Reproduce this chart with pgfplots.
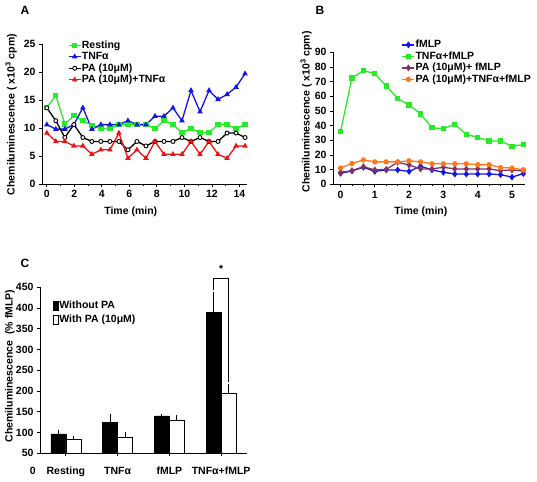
\documentclass[border=0pt]{standalone}
\usepackage{fontspec}
\setmainfont{Liberation Sans}
\usepackage{pgfplots}
\pgfplotsset{compat=1.18}
\definecolor{cgreen}{RGB}{40,235,40}
\definecolor{cblue}{RGB}{20,20,230}
\definecolor{cred}{RGB}{235,20,20}
\definecolor{corange}{RGB}{255,120,30}
\definecolor{cpurple}{RGB}{130,50,100}
\newcommand{\fs}{\fontsize{10.5}{12}\selectfont\bfseries}
\pgfplotsset{
 myaxis/.style={
  scale only axis,
  axis x line*=bottom, axis y line*=left,
  axis line style={line width=0.9pt,-},
  tick align=outside,
  major tick length=3pt, minor tick length=2pt,
  every tick/.style={line width=0.8pt, black},
  /pgf/number format/assume math mode=true,
  tick label style={font=\fs},
  label style={font=\fs},
  legend cell align=left,
  legend style={font=\fs, draw=none, fill=none, inner sep=0pt, outer sep=0pt,
    nodes={inner sep=0.5pt, text height=8pt, text depth=2.5pt}, anchor=north west},
  legend image code/.code={\draw[mark repeat=2,mark phase=2,##1] plot coordinates {(0pt,0pt) (6pt,0pt) (12pt,0pt)};},
 },
 ln/.style={line width=1.3pt, mark size=2pt, mark options={solid}},
 barleg/.style={legend image code/.code={\draw[##1,/tikz/.cd,line width=0.8pt] (0pt,-4.3pt) rectangle (4.5pt,4.3pt);}},
}
\begin{document}
\begin{tikzpicture}
\useasboundingbox (0,0) rectangle (537pt,-481pt);
\node[font=\fontsize{12}{14}\selectfont\bfseries] at (25pt,-10pt) {A};
\node[font=\fontsize{12}{14}\selectfont\bfseries] at (320pt,-10pt) {B};
\node[font=\fontsize{12}{14}\selectfont\bfseries] at (25pt,-263pt) {C};
% ---------------- Panel A
\begin{axis}[myaxis, at={(42pt,-184pt)}, anchor=south west, width=205pt, height=140pt,
 xmin=-0.35, xmax=14.55, ymin=0, ymax=25,
 xtick={0,2,...,14}, minor x tick num=1, ytick={0,5,...,25},
 xlabel={Time (min)}, ylabel={Chemiluminescence ( x10\textsuperscript{3} cpm)},
 xlabel style={at={(axis description cs:0.433,-0.2)}, anchor=center},
 ylabel style={at={(axis description cs:-0.151,0.496)}, anchor=center},
 legend style={at={(0.127,1.032)}}]
\addplot[ln, cgreen, mark=square*] coordinates {
(0,13.7)(0.655,15.8)(1.31,10.7)(1.965,12.2)(2.62,11.3)(3.275,10.5)(3.93,9.9)(4.585,9.9)(5.24,10.6)(5.895,10.6)(6.55,10.6)(7.205,10.6)(7.86,9.9)(8.515,11.3)(9.17,10.6)(9.825,9.2)(10.48,9.9)(11.135,9.2)(11.79,9.2)(12.445,10.6)(13.1,10.6)(13.755,9.9)(14.41,10.6)};
\addlegendentry{Resting}
\addplot[ln, cblue, mark=triangle*] coordinates {
(0,10.6)(0.655,9.8)(1.31,9.8)(1.965,10.6)(2.62,13.6)(3.275,9.8)(3.93,10.6)(4.585,10.6)(5.24,10.6)(5.895,11.3)(6.55,10.6)(7.205,10.6)(7.86,12.1)(8.515,12.1)(9.17,13.6)(9.825,11.3)(10.48,16.7)(11.135,12.9)(11.79,16.7)(12.445,15.1)(13.1,16.0)(13.755,17.3)(14.41,19.7)};
\addlegendentry{TNFα}
\addplot[ln, black, mark=*, mark options={fill=white, line width=0.9pt}] coordinates {
(0,13.6)(0.655,11.3)(1.31,8.3)(1.965,10.6)(2.62,8.3)(3.275,7.6)(3.93,7.6)(4.585,7.6)(5.24,7.6)(5.895,6.1)(6.55,7.6)(7.205,6.8)(7.86,7.6)(8.515,7.6)(9.17,7.6)(9.825,8.3)(10.48,7.6)(11.135,8.3)(11.79,7.6)(12.445,7.6)(13.1,9.1)(13.755,9.1)(14.41,8.3)};
\addlegendentry{PA (10μM)}
\addplot[ln, cred, mark=triangle*] coordinates {
(0,9.1)(0.655,7.6)(1.31,7.6)(1.965,6.8)(2.62,6.8)(3.275,5.3)(3.93,6.1)(4.585,6.1)(5.24,9.1)(5.895,4.6)(6.55,6.1)(7.205,4.6)(7.86,7.6)(8.515,5.3)(9.17,5.3)(9.825,5.3)(10.48,7.6)(11.135,5.3)(11.79,7.6)(12.445,5.3)(13.1,4.6)(13.755,6.8)(14.41,6.8)};
\addlegendentry{PA (10μM)+TNFα}
\end{axis}
% ---------------- Panel B
\begin{axis}[myaxis, at={(333pt,-184.3pt)}, anchor=south west, width=192pt, height=132pt,
 xmin=-0.22, xmax=5.38, ymin=0, ymax=90,
 xtick={0,...,5}, minor x tick num=2, ytick={0,10,...,90},
 xlabel={Time (min)}, ylabel={Chemiluminescence ( x10\textsuperscript{3} cpm)},
 xlabel style={at={(axis description cs:0.458,-0.21)}, anchor=center},
 ylabel style={at={(axis description cs:-0.14,0.55)}, anchor=center},
 legend style={at={(0.358,1.10)}}]
\addplot[ln, cblue, mark=diamond*, mark size=2.4pt] coordinates {
(0,7.5)(0.333,9.1)(0.667,11.6)(1,8.8)(1.333,9.8)(1.667,9.8)(2,8.8)(2.333,12.3)(2.667,9.8)(3,8.2)(3.333,7.0)(3.667,7.0)(4,7.0)(4.333,7.0)(4.667,6.6)(5,4.9)(5.333,7.3)};
\addlegendentry{fMLP}
\addplot[ln, cgreen, mark=square*] coordinates {
(0,36)(0.333,72.5)(0.667,77.5)(1,75.5)(1.333,67)(1.667,58.5)(2,54)(2.333,48)(2.667,38.5)(3,38)(3.333,41)(3.667,34)(4,32)(4.333,29.5)(4.667,29.5)(5,26)(5.333,27)};
\addlegendentry{TNFα+fMLP}
\addplot[ln, cpurple, mark=diamond*, mark size=2.4pt] coordinates {
(0,8.2)(0.333,9.3)(0.667,12)(1,9.8)(1.333,10.2)(1.667,15)(2,13.2)(2.333,10.5)(2.667,10.5)(3,11.6)(3.333,10.5)(3.667,10.5)(4,10.5)(4.333,10.5)(4.667,9.3)(5,9.8)(5.333,9.1)};
\addlegendentry{PA (10μM)+ fMLP}
\addplot[ln, corange, mark=*] coordinates {
(0,11.1)(0.333,14.2)(0.667,16.6)(1,15.3)(1.333,15.3)(1.667,15.3)(2,16.0)(2.333,15.3)(2.667,14.0)(3,14.0)(3.333,14.0)(3.667,14.0)(4,13.4)(4.333,13.4)(4.667,11.4)(5,11.1)(5.333,9.9)};
\addlegendentry{PA (10μM)+TNFα+fMLP}
\end{axis}
% ---------------- Panel C
\begin{axis}[myaxis, barleg, at={(40pt,-453.3pt)}, anchor=south west, width=207pt, height=166pt,
 xmin=-0.5, xmax=3.5, ymin=50, ymax=450,
 xtick={0,1,2,3}, xticklabels={Resting,TNFα,fMLP,TNFα+fMLP},
 xticklabel style={yshift=-7pt},
 ytick={50,100,...,450},
 ylabel={Chemiluminescence\hspace{0.6em}(\% fMLP)},
 ylabel style={at={(axis description cs:-0.145,0.526)}, anchor=center},
 legend style={at={(0.063,0.93)}, nodes={inner sep=1pt, text height=9pt, text depth=3pt}}]
\addplot[ybar, bar width=15pt, bar shift=0pt, fill=black, draw=black,
 error bars/.cd, y dir=plus, y explicit, error bar style={line width=0.9pt, black},
 error mark options={line width=0.9pt, mark size=2pt, black}]
 coordinates {(-0.145,97) +- (0,5) (0.855,124) +- (0,16) (1.855,140) +- (0,0) (2.855,389) +- (0,46)};
\addlegendentry{Without PA}
\addplot[ybar, bar width=15pt, bar shift=0pt, fill=white, draw=black,
 error bars/.cd, y dir=plus, y explicit, error bar style={line width=0.9pt, black},
 error mark options={line width=0.9pt, mark size=2pt, black}]
 coordinates {(0.145,84) +- (0,3) (1.145,90) +- (0,6) (2.145,129) +- (0,9) (3.145,195) +- (0,18)};
\addlegendentry{With PA (10μM)}
\end{axis}
% overlay for the significance bracket
\begin{axis}[scale only axis, at={(40pt,-453.3pt)}, anchor=south west, width=207pt, height=166pt,
 xmin=-0.5, xmax=3.5, ymin=50, ymax=450, hide axis, clip=false]
\addplot[black, line width=0.9pt, no marks] coordinates {(2.855,443) (2.855,472) (3.145,472) (3.145,222)};
\node[font=\fs] at (axis cs:3.0,494) {*};
\end{axis}
\node[font=\fs] at (32.7pt,-470.7pt) {0};
\end{tikzpicture}
\end{document}
